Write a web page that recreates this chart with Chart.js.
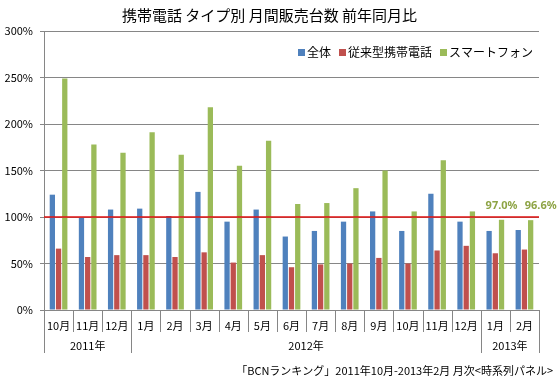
<!DOCTYPE html>
<html>
<head>
<meta charset="utf-8">
<script src="https://cdn.jsdelivr.net/npm/chart.js@4"></script>
<style>
html, body { margin: 0; padding: 0; background: #fff; }
#wrap { width: 560px; height: 386px; }
</style>
</head>
<body>
<div id="wrap"><canvas id="chart1"></canvas></div>
<script>
// data
const months = ['10月', '11月', '12月', '1月', '2月', '3月', '4月', '5月', '6月', '7月', '8月', '9月', '10月', '11月', '12月', '1月', '2月'];
const yearLabels = ['2011年', '2012年', '2013年'];
const yearSpans = [3, 12, 2];
const totalRatio = [124, 99, 108, 109, 101, 127, 95, 108, 79, 85, 95, 106, 85, 125, 95, 85, 86];
const featureRatio = [66, 57, 59, 59, 57, 62, 51, 59, 46, 49, 50, 56, 50, 64, 69, 61, 65];
const smartRatio = [249, 178, 169, 191, 167, 218, 155, 182, 114, 115, 131, 150, 106, 161, 106, 97.0, 96.6];
const labelledIdx = [15, 16];
const refLine = 100;
const sourceNote = '「BCNランキング」2011年10月-2013年2月 月次<時系列パネル>';

const FONT = '"Noto Sans CJK JP", "Noto Sans", sans-serif';
Chart.defaults.font.family = FONT;
Chart.defaults.color = '#000';

// red 100% line, value labels, legend in plot, 2-level x axis, source note
const extras = {
    id: 'extras',
    afterDatasetsDraw(chart) {
        const ctx = chart.ctx;
        const area = chart.chartArea;
        const y = chart.scales.y.getPixelForValue(refLine);
        ctx.save();
        ctx.strokeStyle = '#E01010';
        ctx.lineWidth = 1.5;
        ctx.beginPath();
        ctx.moveTo(area.left, y);
        ctx.lineTo(area.right, y);
        ctx.stroke();

        const meta = chart.getDatasetMeta(2);
        const shift = [0, 10];
        ctx.fillStyle = '#8EA445';
        ctx.font = 'bold 11px "Noto Sans", sans-serif';
        ctx.textAlign = 'center';
        ctx.textBaseline = 'middle';
        labelledIdx.forEach((i, k) => {
            const bar = meta.data[i];
            ctx.fillText(smartRatio[i].toFixed(1) + '%', bar.x + shift[k], bar.y - 14);
        });

        // legend
        const sets = chart.data.datasets;
        ctx.font = '12px ' + FONT;
        ctx.textAlign = 'left';
        const widths = sets.map(d => 9 + ctx.measureText(d.label).width);
        const total = widths.reduce((a, b) => a + b, 0) + 8 * (sets.length - 1);
        let lx = area.right - 6 - total;
        const ly = area.top + 21;
        sets.forEach((d, k) => {
            ctx.fillStyle = d.backgroundColor;
            ctx.fillRect(lx, ly - 3, 7, 7);
            ctx.fillStyle = '#000';
            ctx.fillText(d.label, lx + 9, ly);
            lx += widths[k] + 8;
        });
        ctx.restore();
    },
    afterDraw(chart) {
        const ctx = chart.ctx;
        const xs = chart.scales.x;
        const bottom = chart.chartArea.bottom;
        const edge = i => i === 0 ? xs.left : (i >= months.length ? xs.right :
            (xs.getPixelForValue(i - 1) + xs.getPixelForValue(i)) / 2);

        ctx.save();
        ctx.strokeStyle = '#868686';
        ctx.lineWidth = 1;
        ctx.beginPath();
        for (let i = 0; i <= months.length; i++) {
            const x = Math.round(edge(i)) + 0.5;
            ctx.moveTo(x, bottom);
            ctx.lineTo(x, bottom + 22);
        }
        let start = 0;
        const yearEdges = [0];
        yearSpans.forEach(n => { start += n; yearEdges.push(start); });
        yearEdges.forEach(i => {
            const x = Math.round(edge(i)) + 0.5;
            ctx.moveTo(x, bottom + 22);
            ctx.lineTo(x, bottom + 43);
        });
        ctx.stroke();

        ctx.fillStyle = '#000';
        ctx.font = '11px ' + FONT;
        ctx.textAlign = 'center';
        ctx.textBaseline = 'middle';
        yearLabels.forEach((lab, k) => {
            const x = (edge(yearEdges[k]) + edge(yearEdges[k + 1])) / 2;
            ctx.fillText(lab, x, bottom + 36);
        });

        ctx.textAlign = 'right';
        ctx.fillText(sourceNote, 553, 371);
        ctx.restore();
    }
};

const chart1 = new Chart(document.querySelector('#chart1'), {
    type: 'bar',
    data: {
        labels: months,
        datasets: [
            { label: '全体', data: totalRatio, backgroundColor: '#4F81BD' },
            { label: '従来型携帯電話', data: featureRatio, backgroundColor: '#C0504D' },
            { label: 'スマートフォン', data: smartRatio, backgroundColor: '#9BBB59' }
        ]
    },
    options: {
        responsive: true,
        maintainAspectRatio: false,
        animation: false,
        datasets: {
            bar: { categoryPercentage: 0.64, barPercentage: 0.85 }
        },
        layout: { padding: { left: 0, right: 21, top: 0, bottom: 26 } },
        scales: {
            x: {
                grid: { display: false },
                border: { display: false },
                ticks: {
                    padding: 1,
                    autoSkip: false,
                    maxRotation: 0,
                    font: { size: 11 }
                },
                afterFit(scale) { scale.height = 50; }
            },
            y: {
                min: 0,
                max: 300,
                grid: { color: '#868686', tickLength: 4 },
                border: { color: '#868686' },
                ticks: {
                    stepSize: 50,
                    padding: 7,
                    font: { size: 11 },
                    callback: v => v + '%'
                },
                afterFit(scale) { scale.width = 44; }
            }
        },
        plugins: {
            title: {
                display: true,
                text: '携帯電話 タイプ別 月間販売台数 前年同月比',
                font: { size: 15, weight: 'normal' },
                color: '#000',
                padding: { top: 6, bottom: 7 }
            },
            legend: { display: false },
            tooltip: { enabled: false }
        }
    },
    plugins: [extras]
});
</script>
</body>
</html>
